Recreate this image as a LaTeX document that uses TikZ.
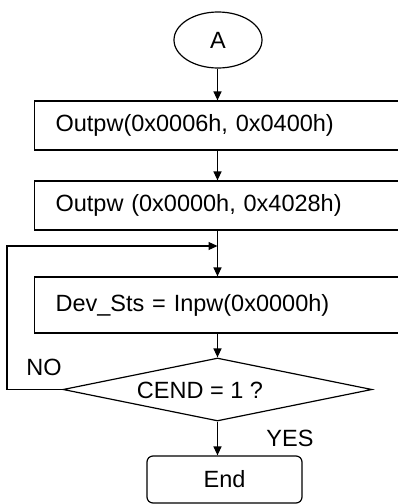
\documentclass[tikz,border=0pt]{standalone}
\usepackage{fontspec}
\setmainfont{Liberation Sans}
\usetikzlibrary{shapes.geometric,arrows.meta}
\begin{document}
\begin{tikzpicture}[x=1pt,y=-1pt,
  line width=1.2pt,
  txt/.style={font=\fontsize{23.5}{26}\selectfont},
  procbox/.style={draw,rectangle,anchor=west,minimum width=376pt,minimum height=49pt,
     text width=334pt,inner xsep=21pt,inner ysep=0pt,align=left,txt},
  arr/.style={-{Triangle[length=9pt,width=8pt]}}]
\useasboundingbox (0,0) rectangle (398,504);
\clip (0,0) rectangle (398,504);
\node[draw,ellipse,minimum width=88pt,minimum height=56pt,inner sep=0pt,txt] (a) at (218,40) {A};
\node[procbox] (b1) at (34,125.5) {Outpw(0x0006h, 0x0400h)};
\node[procbox] (b2) at (34,205.5) {Outpw (0x0000h, 0x4028h)};
\node[procbox,minimum height=56pt] (b3) at (34,305) {Dev\_Sts = Inpw(0x0000h)};
\node[draw,diamond,minimum width=309pt,minimum height=63pt,inner sep=0pt] (d) at (217.5,389.5) {};
\node[txt,inner sep=0pt] (dt) at (200,390) {CEND = 1 ?};
\node[draw,rounded corners=6pt,minimum width=155pt,minimum height=47pt,inner sep=0pt,txt] (e) at (224.5,479.5) {End};
\node[txt,inner sep=0pt] (no) at (44,367) {NO};
\node[txt,inner sep=0pt] (yes) at (290,438) {YES};
\coordinate (lx) at (7,389.5);
\coordinate (ly) at (7,246);
\draw[arr] (a.south -| d.north) -- (d.north |- b1.north);
\draw[arr] (d.north |- b1.south) -- (d.north |- b2.north);
\draw[arr] (d.north |- b2.south) -- (d.north |- b3.north);
\draw[arr] (d.north |- b3.south) -- (d.north);
\draw[arr] (d.south) -- (d.south |- e.north);
\draw[arr] (d.west) -- (lx) -- (ly) -- (ly -| d.north);
\end{tikzpicture}
\end{document}
